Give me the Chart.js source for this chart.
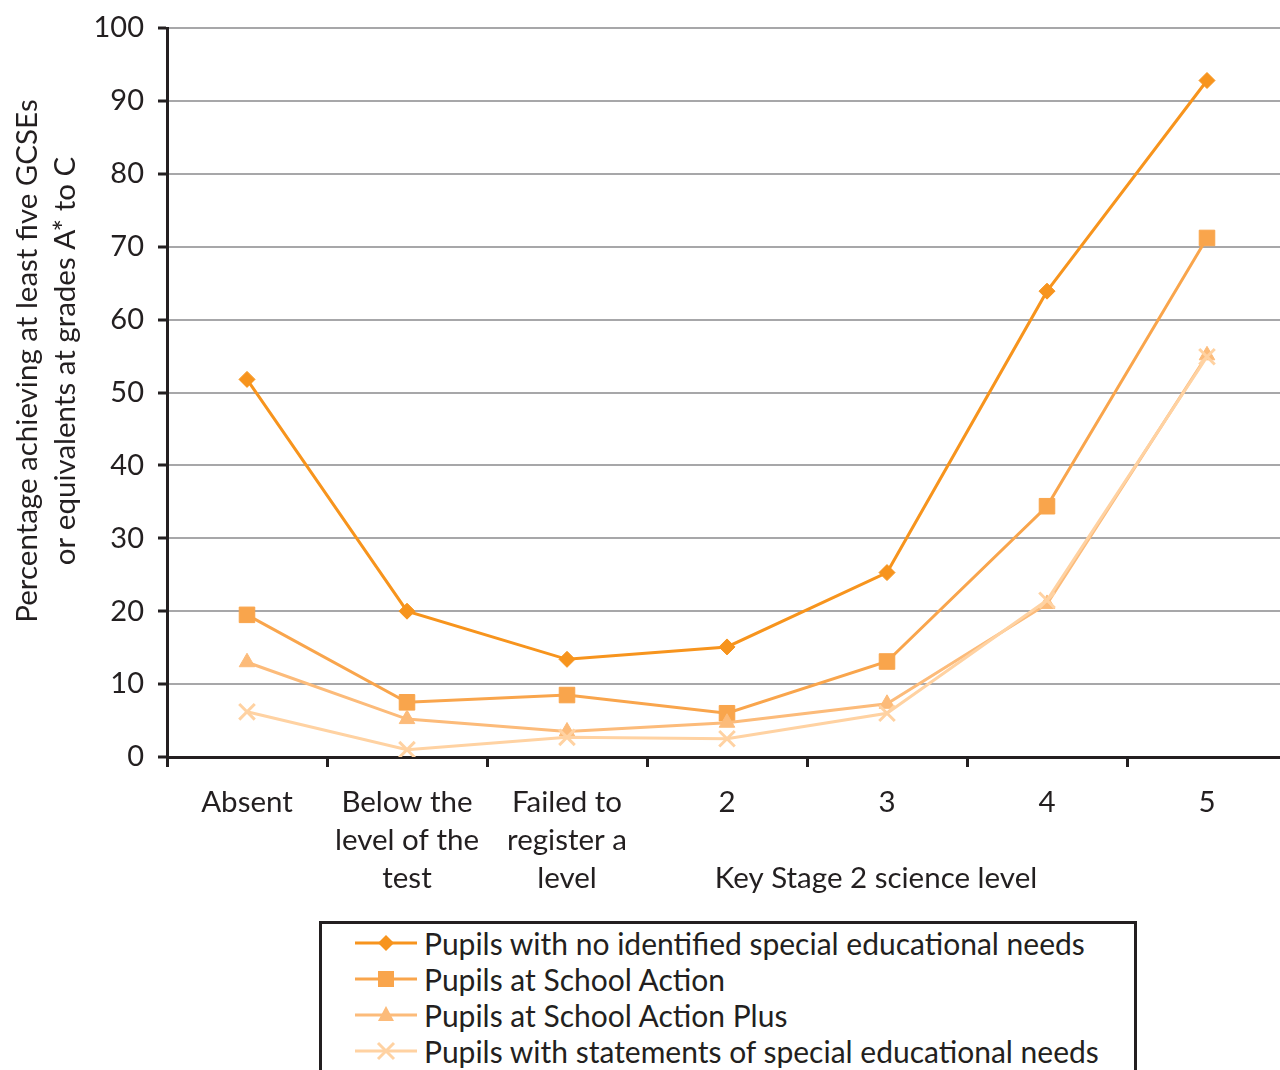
<!DOCTYPE html>
<html>
<head>
<meta charset="utf-8">
<script src="https://cdn.jsdelivr.net/npm/chart.js@4"></script>
<style>
  html, body { margin: 0; padding: 0; background: #fff; }
  body { width: 1280px; height: 1070px; position: relative; overflow: hidden; font-family: Lato, 'Noto Sans', sans-serif; color: #231F20; }
  #wrap { position: absolute; left: 0; top: 0; width: 1301px; height: 915px; }
  #legend { position: absolute; left: 319px; top: 921px; width: 818px; height: 170px; border: 3px solid #231F20; box-sizing: border-box; padding-top: 1px; }
  .row { height: 36px; display: flex; align-items: center; font-size: 30px; }
  .row svg { margin-left: 33px; margin-right: 7px; }
</style>
</head>
<body>
<div id="wrap"><canvas id="chart"></canvas></div>
<div id="legend"></div>
<script>
const categories = [['Absent'], ['Below the', 'level of the', 'test'], ['Failed to', 'register a', 'level'], ['2'], ['3'], ['4'], ['5']];
const seriesNames = [
  'Pupils with no identified special educational needs',
  'Pupils at School Action',
  'Pupils at School Action Plus',
  'Pupils with statements of special educational needs'
];
const noSEN = [51.8, 20.0, 13.4, 15.1, 25.3, 63.9, 92.8];
const schoolAction = [19.5, 7.5, 8.5, 6.0, 13.1, 34.4, 71.2];
const schoolActionPlus = [13.0, 5.2, 3.5, 4.7, 7.3, 21.0, 55.1];
const statements = [6.2, 1.0, 2.7, 2.5, 6.0, 21.5, 54.9];
const yTicks = [0, 10, 20, 30, 40, 50, 60, 70, 80, 90, 100];
const yTitle = ['Percentage achieving at least five GCSEs', 'or equivalents at grades A* to C'];
const xTitleText = 'Key Stage 2 science level';

const colors = ['#F7941D', '#F9A54C', '#FCBB7A', '#FFD2A2'];
const styles = ['rectRot', 'rect', 'triangle', 'crossRot'];
const radii = [8, 11, 9, 11];
const allData = [noSEN, schoolAction, schoolActionPlus, statements];
const dark = '#231F20';
const font = 'Lato, "Noto Sans", sans-serif';

const datasets = allData.map((d, i) => ({
  label: seriesNames[i],
  data: d,
  borderColor: colors[i],
  backgroundColor: colors[i],
  pointBackgroundColor: colors[i],
  pointBorderColor: colors[i],
  pointStyle: styles[i],
  pointRadius: radii[i],
  pointBorderWidth: i === 3 ? 3 : 1,
  borderWidth: 3,
  tension: 0
})).reverse();

// axis titles placed by hand, the original is not centred on the axes
const axisTitles = {
  id: 'axisTitles',
  afterDraw(chart) {
    const { ctx, scales: { x } } = chart;
    ctx.save();
    ctx.font = '29.5px ' + font;
    ctx.fillStyle = dark;
    ctx.textAlign = 'center';
    ctx.textBaseline = 'middle';
    ctx.fillText(xTitleText, x.getPixelForValue(4) - 11, 878);
    ctx.translate(0, 361);
    ctx.rotate(-Math.PI / 2);
    ctx.fillText(yTitle[0], 0, 27);
    ctx.fillText(yTitle[1], 0, 65);
    ctx.restore();
  }
};

new Chart(document.getElementById('chart'), {
  type: 'line',
  data: { labels: categories, datasets },
  options: {
    responsive: true,
    maintainAspectRatio: false,
    animation: false,
    layout: { padding: { top: 28, right: 0, left: 0, bottom: 0 } },
    plugins: { legend: { display: false }, tooltip: { enabled: false } },
    scales: {
      x: {
        offset: true,
        grid: { offset: true, drawOnChartArea: false, tickLength: 10, tickWidth: 3, tickColor: dark },
        border: { color: dark, width: 3 },
        ticks: { color: dark, padding: 16, maxRotation: 0, autoSkip: false, font: { family: font, size: 29.5, lineHeight: 1.29 } },
        afterFit(s) { s.height = 158; }
      },
      y: {
        min: 0, max: 100,
        afterBuildTicks(s) { s.ticks = yTicks.map(v => ({ value: v })); },
        grid: { color: '#A7A7A9', lineWidth: 2, tickLength: 9, tickWidth: 3, tickColor: dark },
        border: { color: dark, width: 3 },
        ticks: { color: dark, padding: 14, font: { family: font, size: 29 } },
        afterFit(s) { s.width = 167; s.paddingTop = 0; s.paddingBottom = 0; }
      }
    }
  },
  plugins: [axisTitles]
});

// legend
const shapes = [
  c => `<polygon points="31,11 39,19 31,27 23,19" fill="${c}"/>`,
  c => `<rect x="23" y="11" width="16" height="16" fill="${c}"/>`,
  c => `<polygon points="31,10 39,25 23,25" fill="${c}"/>`,
  c => `<path d="M23,11 L39,27 M39,11 L23,27" stroke="${c}" stroke-width="3"/>`
];
const legend = document.getElementById('legend');
seriesNames.forEach((name, i) => {
  const row = document.createElement('div');
  row.className = 'row';
  row.innerHTML = `<svg width="62" height="38"><line x1="0" y1="19" x2="62" y2="19" stroke="${colors[i]}" stroke-width="3"/>${shapes[i](colors[i])}</svg><span>${name}</span>`;
  legend.appendChild(row);
});
</script>
</body>
</html>
